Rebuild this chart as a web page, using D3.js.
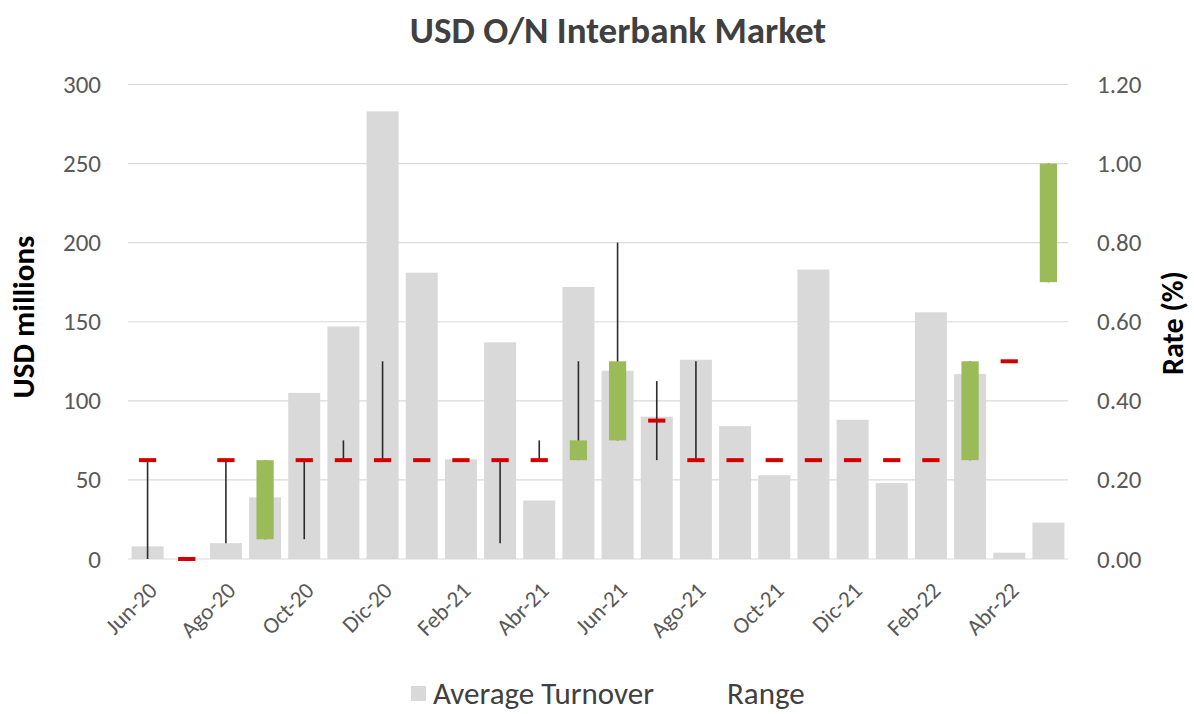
<!DOCTYPE html>
<html>
<head>
<meta charset="utf-8">
<script src="https://cdn.jsdelivr.net/npm/d3@7"></script>
<style>
  body { margin: 0; background: #fff; }
  svg { font-family: Carlito, Calibri, Lato, "Open Sans", sans-serif; }
</style>
</head>
<body>
<div id="chart"></div>
<script>
// months on the x axis
var months = ["Jun-20","Jul-20","Ago-20","Sep-20","Oct-20","Nov-20","Dic-20","Ene-21","Feb-21","Mar-21","Abr-21","May-21",
              "Jun-21","Jul-21","Ago-21","Sep-21","Oct-21","Nov-21","Dic-21","Ene-22","Feb-22","Mar-22","Abr-22","May-22"];

// average turnover, USD millions
var turnover = [8, 0, 10, 39, 105, 147, 283, 181, 63, 137, 37, 172,
                119, 90, 126, 84, 53, 183, 88, 48, 156, 117, 4, 23];

// rate range (%) : open, high, low, close
var rateOpen  = [0.25, 0, 0.25, 0.05, 0.25, 0.25, 0.25, 0.25, 0.25, 0.25, 0.25, 0.25,
                 0.30, 0.35, 0.25, 0.25, 0.25, 0.25, 0.25, 0.25, 0.25, 0.25, 0.50, 0.70];
var rateHigh  = [0.25, 0, 0.25, 0.25, 0.25, 0.30, 0.50, 0.25, 0.25, 0.25, 0.30, 0.50,
                 0.80, 0.45, 0.50, 0.25, 0.25, 0.25, 0.25, 0.25, 0.25, 0.50, 0.50, 1.00];
var rateLow   = [0.00, 0, 0.04, 0.05, 0.05, 0.25, 0.25, 0.25, 0.25, 0.04, 0.25, 0.25,
                 0.30, 0.25, 0.25, 0.25, 0.25, 0.25, 0.25, 0.25, 0.25, 0.25, 0.50, 0.70];
var rateClose = [0.25, 0, 0.25, 0.25, 0.25, 0.25, 0.25, 0.25, 0.25, 0.25, 0.25, 0.30,
                 0.50, 0.35, 0.25, 0.25, 0.25, 0.25, 0.25, 0.25, 0.25, 0.50, 0.50, 1.00];

var leftTicks  = [0, 50, 100, 150, 200, 250, 300];
var rightTicks = [0, 0.2, 0.4, 0.6, 0.8, 1.0, 1.2];

var width = 1194, height = 714,
    plotLeft = 128, plotRight = 1068, plotTop = 84.5, plotBottom = 559;

var svg = d3.select("#chart")
  .append("svg")
    .attr("width", width)
    .attr("height", height);

var x = d3.scaleBand()
  .domain(months)
  .range([plotLeft, plotRight])
  .paddingInner(0.183)
  .paddingOuter(0.0915);

var yL = d3.scaleLinear().domain([0, 300]).range([plotBottom, plotTop]);
var yR = d3.scaleLinear().domain([0, 1.2]).range([plotBottom, plotTop]);

var step = x.step();
var mid = function(i){ return x(months[i]) + x.bandwidth() / 2; };

// gridlines
svg.append("g")
  .selectAll("line")
  .data(leftTicks)
  .join("line")
    .attr("x1", plotLeft)
    .attr("x2", plotRight)
    .attr("y1", function(d){ return yL(d); })
    .attr("y2", function(d){ return yL(d); })
    .attr("stroke", "#d9d9d9")
    .attr("stroke-width", 1.2);

// turnover bars
svg.append("g")
  .selectAll("rect")
  .data(turnover)
  .join("rect")
    .attr("x", function(d, i){ return x(months[i]); })
    .attr("width", x.bandwidth())
    .attr("y", function(d){ return yL(d); })
    .attr("height", function(d){ return plotBottom - yL(d); })
    .attr("fill", "#d9d9d9");

// high-low lines
svg.append("g")
  .selectAll("line")
  .data(months)
  .join("line")
    .attr("x1", function(d, i){ return mid(i); })
    .attr("x2", function(d, i){ return mid(i); })
    .attr("y1", function(d, i){ return yR(rateHigh[i]); })
    .attr("y2", function(d, i){ return yR(rateLow[i]); })
    .attr("stroke", "#2b2b2b")
    .attr("stroke-width", 1.6);

// close markers (hidden behind the up bars where open and close differ)
var dashW = step * 0.44;
svg.append("g")
  .selectAll("rect")
  .data(months.filter(function(d, i){ return rateOpen[i] === rateClose[i]; }))
  .join("rect")
    .attr("x", function(d){ return mid(months.indexOf(d)) - dashW / 2; })
    .attr("width", dashW)
    .attr("y", function(d){ return yR(rateClose[months.indexOf(d)]) - 2; })
    .attr("height", 4)
    .attr("fill", "#d20000");

// up bars (open to close)
var boxW = step * 0.44;
svg.append("g")
  .selectAll("rect")
  .data(months.filter(function(d, i){ return rateOpen[i] !== rateClose[i]; }))
  .join("rect")
    .attr("x", function(d){ return mid(months.indexOf(d)) - boxW / 2; })
    .attr("width", boxW)
    .attr("y", function(d){ var i = months.indexOf(d); return yR(Math.max(rateOpen[i], rateClose[i])); })
    .attr("height", function(d){ var i = months.indexOf(d); return Math.abs(yR(rateOpen[i]) - yR(rateClose[i])); })
    .attr("fill", "#9bbb59");

// left axis
var axL = svg.append("g")
  .attr("transform", "translate(101,0)")
  .call(d3.axisLeft(yL).tickValues(leftTicks).tickSize(0).tickPadding(0));
axL.attr("font-family", null).attr("font-size", null);
axL.select(".domain").remove();
axL.selectAll("text").attr("font-size", 25).attr("fill", "#595959");

// right axis
var axR = svg.append("g")
  .attr("transform", "translate(1097,0)")
  .call(d3.axisRight(yR).tickValues(rightTicks).tickSize(0).tickPadding(0).tickFormat(d3.format(".2f")));
axR.attr("font-family", null).attr("font-size", null);
axR.select(".domain").remove();
axR.selectAll("text").attr("font-size", 25).attr("fill", "#595959");

// x axis labels, every other month
var axX = svg.append("g")
  .attr("transform", "translate(0," + plotBottom + ")")
  .call(d3.axisBottom(x).tickValues(months.filter(function(d, i){ return i % 2 === 0; })).tickSize(0));
axX.attr("font-family", null).attr("font-size", null);
axX.select(".domain").remove();
axX.selectAll("text")
  .attr("font-size", 23)
  .attr("fill", "#595959")
  .attr("text-anchor", "end")
  .attr("dy", null)
  .attr("y", 0)
  .attr("transform", "translate(11,33) rotate(-45)");

// titles
svg.append("text")
  .attr("x", 618)
  .attr("y", 43)
  .attr("text-anchor", "middle")
  .attr("font-size", 37)
  .attr("font-weight", "bold")
  .attr("fill", "#404040")
  .text("USD O/N Interbank Market");

svg.append("text")
  .attr("transform", "translate(34,317) rotate(-90)")
  .attr("text-anchor", "middle")
  .attr("font-size", 31)
  .attr("font-weight", "bold")
  .attr("fill", "#000")
  .text("USD millions");

svg.append("text")
  .attr("transform", "translate(1183,323) rotate(-90)")
  .attr("text-anchor", "middle")
  .attr("font-size", 30)
  .attr("font-weight", "bold")
  .attr("fill", "#000")
  .text("Rate (%)");

// legend
var legend = svg.append("g");
legend.append("rect")
  .attr("x", 411).attr("y", 686)
  .attr("width", 15).attr("height", 15)
  .attr("fill", "#d9d9d9");
legend.append("text")
  .attr("x", 433).attr("y", 704)
  .attr("font-size", 31)
  .attr("fill", "#404040")
  .text("Average Turnover");
legend.append("text")
  .attr("x", 727).attr("y", 704)
  .attr("font-size", 31)
  .attr("fill", "#404040")
  .text("Range");
</script>
</body>
</html>
